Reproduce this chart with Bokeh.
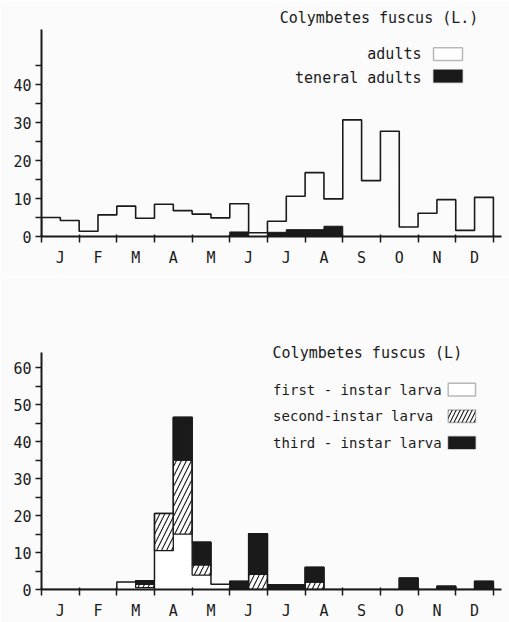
from bokeh.plotting import figure
from bokeh.layouts import column
from bokeh.models import Range1d, FixedTicker, Label, BoxAnnotation
from bokeh.embed import file_html
from bokeh.resources import INLINE

# ---- data (fortnightly samples, two per month) ----
months = ["J", "F", "M", "A", "M", "J", "J", "A", "S", "O", "N", "D"]
adults = [5.0, 4.2, 1.4, 5.7, 8.0, 4.8, 8.5, 6.8, 5.9, 4.9, 8.6, 1.0,
          4.0, 10.6, 16.8, 9.9, 30.7, 14.7, 27.7, 2.5, 6.1, 9.7, 1.6, 10.3]
teneral = [0, 0, 0, 0, 0, 0, 0, 0, 0, 0, 1.2, 0,
           1.1, 1.8, 1.8, 2.7, 0, 0, 0, 0, 0, 0, 0, 0]
first_instar = [0, 0, 0, 0, 2.0, 0.5, 10.5, 15.0, 3.9, 1.4, 0, 0,
                0, 0, 0, 0, 0, 0, 0, 0, 0, 0, 0, 0]
second_instar = [0, 0, 0, 0, 0, 0.9, 10.1, 20.0, 2.8, 0, 0, 4.1,
                 0, 0, 2.0, 0, 0, 0, 0, 0, 0, 0, 0, 0]
third_instar = [0, 0, 0, 0, 0, 1.0, 0, 11.6, 6.1, 0, 2.2, 11.0,
                1.3, 1.3, 4.0, 0, 0, 0, 0, 3.1, 0, 0.9, 0, 2.2]
top_yticks = [0, 10, 20, 30, 40]
top_yminor = [5, 15, 25, 35, 45]
bot_yticks = [0, 10, 20, 30, 40, 50, 60]
bot_yminor = [5, 15, 25, 35, 45, 55]
title_text = "Colymbetes fuscus (L.)"
title_text2 = "Colymbetes  fuscus  (L)"
top_legend = ["adults", "teneral adults"]
bot_legend = ["first - instar larva", "second-instar larva", "third - instar larva"]

FONT = "DejaVu Sans Mono"
INK = "#1a1a1a"
BG = "#fbfbfb"
N = len(adults)
left = list(range(N))
right = [i + 1 for i in left]


def step_outline(vals):
    xs, ys = [0], [0]
    for i, v in enumerate(vals):
        xs += [i, i + 1]
        ys += [v, v]
    xs.append(len(vals))
    ys.append(0)
    return xs, ys


def make_fig(height, ymax, axis_top, yticks, yminor, border_top, border_bottom):
    p = figure(width=509, height=height, output_backend="svg", toolbar_location=None,
               x_range=Range1d(0, 24.43), y_range=Range1d(0, ymax),
               min_border_left=41, min_border_right=8,
               min_border_top=border_top, min_border_bottom=border_bottom,
               background_fill_color=BG, border_fill_color=BG)
    p.outline_line_color = None
    p.grid.visible = False
    # x axis: labels at month centres, ticks at month boundaries
    p.xaxis.ticker = FixedTicker(ticks=[2 * i + 1 for i in range(12)],
                                 minor_ticks=list(range(0, 25, 2)))
    p.xaxis.major_label_overrides = {2 * i + 1: m for i, m in enumerate(months)}
    p.xaxis.major_tick_out = 0
    p.xaxis.major_tick_in = 0
    p.xaxis.minor_tick_out = 6
    p.xaxis.minor_tick_in = 2
    p.xaxis.major_label_standoff = 6
    # y axis
    p.yaxis.ticker = FixedTicker(ticks=yticks, minor_ticks=yminor)
    p.yaxis.bounds = (0, axis_top)
    p.yaxis.major_tick_out = 6
    p.yaxis.major_tick_in = 0
    p.yaxis.minor_tick_out = 6
    p.yaxis.minor_tick_in = 0
    p.yaxis.major_label_standoff = 4
    for ax in (p.xaxis, p.yaxis):
        ax.axis_line_width = 2
        ax.axis_line_color = INK
        ax.major_tick_line_color = INK
        ax.minor_tick_line_color = INK
        ax.major_tick_line_width = 1.5
        ax.minor_tick_line_width = 1.5
        ax.major_label_text_font = FONT
        ax.major_label_text_font_size = "15px"
        ax.major_label_text_color = INK
    return p


def text(p, x, y, s, align="left", size="15px"):
    p.add_layout(Label(x=x, y=y, text=s, text_font=FONT, text_font_size=size,
                       text_color=INK, text_align=align, text_baseline="middle"))


# ---------------- top panel: adults ----------------
p1 = make_fig(276, 60.0, 54.5, top_yticks, top_yminor, 8, 40)

p1.quad(left=left, right=right, bottom=0, top=teneral, fill_color=INK, line_color=INK, line_width=1)
xs, ys = step_outline(adults)
p1.line(xs, ys, line_color=INK, line_width=1.6)

text(p1, 23.2, 57.6, title_text, "right")
text(p1, 20.18, 47.9, top_legend[0], "right")
text(p1, 20.18, 41.8, top_legend[1], "right")
p1.add_layout(BoxAnnotation(left=20.82, right=22.36, bottom=46.3, top=49.7,
                            fill_color="white", fill_alpha=1, line_color=INK, line_width=1.5))
p1.add_layout(BoxAnnotation(left=20.82, right=22.36, bottom=40.5, top=43.9,
                            fill_color=INK, fill_alpha=1, line_color=INK, line_width=1.5))

# ---------------- bottom panel: larvae ----------------
p2 = make_fig(346, 67.4, 64.2, bot_yticks, bot_yminor, 64, 26)
b1 = first_instar
b2 = [a + b for a, b in zip(first_instar, second_instar)]
b3 = [a + b for a, b in zip(b2, third_instar)]
p2.quad(left=left, right=right, bottom=0, top=b1, fill_color="white", line_color=None)
sec_idx = [i for i in range(N) if second_instar[i] > 0]
p2.quad(left=[left[i] for i in sec_idx], right=[right[i] for i in sec_idx],
        bottom=[b1[i] for i in sec_idx], top=[b2[i] for i in sec_idx],
        fill_color="white", hatch_pattern="/", hatch_color=INK, hatch_scale=10,
        hatch_weight=1.1, line_color=INK, line_width=1.3)
thr_idx = [i for i in range(N) if third_instar[i] > 0]
p2.quad(left=[left[i] for i in thr_idx], right=[right[i] for i in thr_idx],
        bottom=[b2[i] for i in thr_idx], top=[b3[i] for i in thr_idx],
        fill_color=INK, line_color=INK, line_width=1.3)
xs2, ys2 = step_outline(b3)
p2.line(xs2, ys2, line_color=INK, line_width=1.5)

text(p2, 12.27, 64.0, title_text2)
text(p2, 12.3, 54.1, bot_legend[0], size="14px")
text(p2, 12.3, 46.9, bot_legend[1], size="14px")
text(p2, 12.3, 39.7, bot_legend[2], size="14px")
p2.add_layout(BoxAnnotation(left=21.6, right=23.05, bottom=52.4, top=55.8,
                            fill_color="white", fill_alpha=1, line_color=INK, line_width=1.5))
p2.add_layout(BoxAnnotation(left=21.6, right=23.05, bottom=45.2, top=48.6,
                            fill_color="white", fill_alpha=1, hatch_pattern="/", hatch_color=INK,
                            hatch_scale=8, hatch_weight=1.1, line_color=INK, line_width=1.5))
p2.add_layout(BoxAnnotation(left=21.6, right=23.05, bottom=38.0, top=41.4,
                            fill_color=INK, fill_alpha=1, line_color=INK, line_width=1.5))

layout = column(p1, p2, spacing=0)
open("out.html", "w").write(file_html(layout, INLINE))
